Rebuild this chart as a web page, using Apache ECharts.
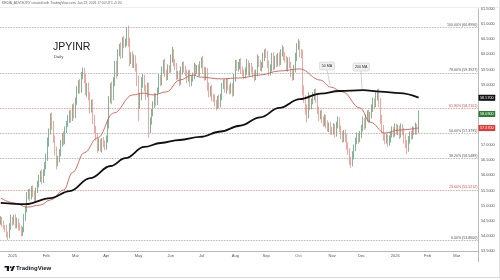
<!DOCTYPE html>
<html><head><meta charset="utf-8">
<script src="https://cdn.jsdelivr.net/npm/echarts@6/dist/echarts.min.js"></script>
<style>html,body{margin:0;padding:0;background:#fff}#c{width:500px;height:280px}</style>
</head><body><div id="c"></div>
<script>
const headerText = 'KEDIA_ADVISORY created with TradingView.com, Jan 23, 2026 17:00 UTC+5:30';
const symbolName = 'JPYINR';
const intervalName = 'Daily';
const startDate = '2024-12-20';
const axisEndDate = '2026-03-20';
const monthNames = ['Jan','Feb','Mar','Apr','May','Jun','Jul','Aug','Sep','Oct','Nov','Dec'];
const firstOpen = 54.45;
const closes = [54.55,
54.40,54.30,54.25,54.05,54.00,
54.30,54.55,54.45,54.60,54.35,
54.50,54.30,54.25,54.10,54.20,
54.60,54.90,55.30,55.45,55.30,
55.55,55.40,55.25,55.50,55.70,
55.90,56.05,55.85,56.10,56.30,
56.60,57.10,57.45,57.90,57.70,
57.20,56.80,56.40,56.55,56.75,
57.05,57.30,57.15,57.50,57.70,
57.85,58.05,57.90,58.25,58.00,
58.45,58.80,59.05,58.85,59.30,
59.45,59.20,58.75,58.95,58.60,
58.20,58.40,57.90,57.55,57.30,
56.95,57.10,56.90,57.15,57.05,
56.95,57.20,57.70,58.50,58.90,
58.60,59.10,59.60,59.40,60.05,
60.20,60.00,60.45,60.35,60.40,
60.75,60.40,59.80,59.95,59.70,
59.85,59.55,59.10,58.35,58.60,
59.05,59.20,58.90,58.70,58.95,
57.55,57.80,58.05,58.35,58.60,
58.45,58.80,59.20,59.10,59.50,
59.70,59.40,59.25,59.55,59.50,
59.85,60.05,59.75,59.60,59.30,
59.35,59.10,59.45,59.65,59.50,
59.40,59.20,59.35,59.05,59.20,
59.30,59.60,59.45,59.55,59.40,
59.65,59.80,59.50,59.25,59.45,
58.95,58.70,58.85,58.60,58.55,
58.40,58.30,58.55,58.35,58.60,
58.95,59.05,58.85,59.10,58.90,
58.80,58.95,58.75,59.20,59.70,
59.55,59.60,59.75,59.50,59.40,
59.30,59.45,59.70,59.40,59.60,
59.50,59.35,59.25,59.40,59.85,
59.70,59.55,59.65,59.90,60.05,
60.00,59.70,59.40,59.55,59.95,
59.60,59.85,59.70,59.95,59.75,
60.05,60.15,59.95,59.85,59.55,
59.80,59.65,59.40,59.25,59.50,
59.90,60.25,60.35,60.05,60.00,
58.85,58.55,58.20,58.00,58.55,
58.30,58.45,58.60,58.75,58.55,
58.15,57.95,58.05,57.85,57.75,
57.90,57.70,57.55,57.65,57.50,
57.45,57.60,57.40,57.65,57.80,
57.55,57.35,57.20,57.40,57.25,
57.00,56.80,56.50,56.40,56.65,
56.90,57.15,57.30,57.20,57.35,
57.55,57.80,57.65,57.90,58.05,
57.85,58.00,58.20,58.45,58.35,
58.60,58.75,58.40,57.90,57.55,
57.30,57.15,57.25,57.10,57.20,
57.35,57.50,57.40,57.60,57.45,
57.55,57.35,57.60,57.45,57.25,
57.05,56.90,57.15,57.35,57.30,
57.50,57.45,57.60,57.50,58.03];
// wick lengths in hundredths
const upWick = [10,
8,10,6,12,9, 12,15,8,10,12, 10,8,12,9,10, 12,10,15,10,12, 10,12,8,10,12,
12,10,15,10,14, 12,15,10,15,18, 10,12,15,10,12, 12,10,15,12,10, 14,10,12,10,15,
12,15,10,14,12, 12,10,15,10,12, 15,10,12,10,8, 10,12,10,8,12, 10,12,15,12,15,
20,15,18,20,12, 15,20,12,15,12, 15,20,15,12,15, 15,12,15,20,12, 20,15,12,10,12,
10,12,15,10,12, 12,10,15,12,10, 12,15,10,12,10, 15,20,12,10,12, 10,12,15,10,12,
12,10,12,15,10, 10,12,8,10,12, 12,10,15,10,12, 10,12,10,15,10, 12,10,8,12,10,
10,12,15,10,12, 10,12,10,15,12, 12,15,10,12,10, 10,12,15,10,12, 12,10,12,10,15,
10,12,10,15,12, 15,12,10,12,10, 12,10,15,10,12, 12,15,10,12,10, 10,12,10,12,15,
15,12,15,10,12, 15,12,10,15,20, 12,10,15,10,12, 15,12,10,12,10, 12,10,12,10,12,
10,12,10,12,15, 12,10,12,10,12, 12,10,10,12,15, 12,10,12,10,12, 12,15,10,12,10,
12,10,15,12,10, 15,10,12,15,10, 12,10,12,10,12, 10,12,10,12,10, 12,10,12,10,12,
10,12,15,10,12, 12,10,15,10,12];
const downWick = [8,
10,8,12,10,14, 8,10,12,8,10, 10,12,8,12,10, 8,10,12,10,15, 10,12,15,10,8,
10,12,15,10,12, 10,12,15,10,20, 12,15,20,10,12, 12,10,15,12,10, 10,12,15,10,12,
10,12,10,15,12, 12,15,10,15,12, 15,12,20,15,15, 20,15,12,15,12, 12,10,12,15,12,
25,12,15,20,12, 12,15,12,15,12, 12,15,20,12,15, 15,12,15,55,15, 12,15,12,20,12,
30,15,12,10,12, 15,12,10,15,12, 12,15,12,10,12, 10,12,15,12,15, 12,15,10,12,10,
12,15,10,12,10, 10,12,15,10,12, 12,10,15,12,10, 15,12,10,15,12, 12,15,10,12,10,
12,10,12,15,10, 12,10,15,12,10, 10,12,10,15,12, 12,10,12,10,12, 10,12,15,10,12,
12,10,12,10,12, 12,15,12,10,12, 12,10,12,10,15, 10,12,15,12,10, 12,10,15,12,10,
10,12,10,15,12, 20,15,20,25,12, 15,12,10,12,15, 12,15,10,12,15, 12,15,10,12,15,
12,10,15,12,10, 12,15,12,10,15, 15,12,15,15,10, 12,10,12,15,10, 12,10,15,10,12,
12,10,12,10,15, 10,12,15,20,15, 15,12,10,15,12, 12,10,15,12,10, 12,15,10,12,20,
15,20,12,10,12, 10,12,10,15,10];
// moving averages: [bar index, value]
const ma50 = [[0,55.25],[9,55.09],[18,54.95],[27,55.02],[34,55.19],[43,55.52],[49,56.10],[57,56.75],[66,57.24],[77,58.06],[90,58.66],[97,58.72],[104,58.66],[113,58.76],[122,59.15],[131,59.32],[136,59.25],[150,59.19],[163,59.22],[177,59.32],[190,59.45],[204,59.52],[218,59.15],[225,58.92],[233,58.76],[245,58.23],[252,57.76],[262,57.40],[272,57.50],[285,57.57]];
const ma200 = [[0,55.09],[17,55.05],[34,55.25],[47,55.48],[61,55.91],[75,56.31],[85,56.57],[98,56.94],[109,57.07],[122,57.17],[136,57.27],[150,57.45],[163,57.64],[177,57.92],[190,58.23],[204,58.52],[218,58.70],[231,58.79],[247,58.82],[259,58.77],[272,58.72],[285,58.57]];
const fibHigh = 60.899, fibLow = 53.86;
const fibRatios = [1, 0.786, 0.618, 0.5, 0.382, 0.236, 0];
const fibRedRatios = [0.618, 0.236];
const yMin = 53.5, yMax = 61.5, yStep = 0.5;

const UP = '#2b8550', DOWN = '#e46b63';

const dates = [];
{
  let d = new Date(startDate + 'T00:00:00Z');
  const end = new Date(axisEndDate + 'T00:00:00Z');
  while (d <= end) {
    const wd = d.getUTCDay();
    if (wd !== 0 && wd !== 6) dates.push(d.toISOString().slice(0, 10));
    d = new Date(d.getTime() + 86400000);
  }
}
const isMonthStart = dates.map((s, i) => i > 0 && s.slice(5, 7) !== dates[i - 1].slice(5, 7));
const ohlc = closes.map((c, i) => {
  const o = i === 0 ? firstOpen : closes[i - 1];
  return [o, c, Math.min(o, c) - downWick[i] / 100, Math.max(o, c) + upWick[i] / 100];
});
const lastClose = closes[closes.length - 1];
const last50 = ma50[ma50.length - 1][1];
const last200 = ma200[ma200.length - 1][1];

const priceTag = (v, bg) => ({
  yAxis: v,
  lineStyle: { color: 'rgba(0,0,0,0)', width: 0 },
  label: { show: true, position: 'end', distance: 0.5, formatter: v.toFixed(4), color: '#fff', backgroundColor: bg,
    fontSize: 3.8, padding: [1, 1.5], borderRadius: 0.5, fontFamily: 'Liberation Sans', opacity: 1 }
});

const fibData = fibRatios.map(r => {
  const v = fibLow + r * (fibHigh - fibLow);
  const red = fibRedRatios.includes(r);
  return {
    yAxis: v,
    lineStyle: { color: red ? '#d9776f' : '#9a9a9a', type: 'dotted', width: 0.8 },
    label: { show: true, position: 'insideEndTop', distance: 0.5, formatter: (r * 100).toFixed(2) + '% (' + v.toFixed(4) + ')',
      color: red ? '#d0504a' : '#555', fontSize: 3.6, fontFamily: 'Liberation Sans' }
  };
});

const chart = echarts.init(document.getElementById('c'), null, { renderer: 'canvas' });
chart.setOption({
  animation: false,
  backgroundColor: '#fff',
  grid: { left: 0, right: 22, top: 9, bottom: 29, outerBoundsMode: 'none', containLabel: false },
  xAxis: {
    type: 'category', data: dates, boundaryGap: true,
    axisLine: { show: true, lineStyle: { color: '#8a8a8a', width: 0.6 } },
    axisTick: { show: false },
    splitLine: { show: false },
    axisLabel: {
      interval: (idx) => isMonthStart[idx],
      formatter: (val) => { const m = +val.slice(5, 7); return m === 1 ? val.slice(0, 4) : monthNames[m - 1]; },
      fontSize: 4, color: '#555', margin: 3, fontFamily: 'Liberation Sans'
    }
  },
  yAxis: {
    type: 'value', position: 'right', min: yMin, max: yMax, interval: yStep, scale: true,
    axisLine: { show: true, lineStyle: { color: '#8a8a8a', width: 0.6 } },
    axisTick: { show: false },
    splitLine: { show: false },
    axisLabel: { formatter: v => v.toFixed(4), fontSize: 3.8, color: '#555', margin: 3, fontFamily: 'Liberation Sans' }
  },
  series: [
    {
      type: 'candlestick', data: ohlc, barWidth: 1.3,
      itemStyle: { color: UP, color0: DOWN, borderColor: UP, borderColor0: DOWN, borderWidth: 0.6 },
      markLine: { silent: true, symbol: ['none', 'none'], animation: false, data: fibData.concat([priceTag(lastClose, '#2e7d32')]) },
      z: 3
    },
    {
      type: 'line', data: ma50, smooth: 0.4, smoothMonotone: 'x', showSymbol: false,
      lineStyle: { color: '#d65a52', width: 0.9 }, z: 4,
      markLine: { silent: true, symbol: ['none', 'none'], data: [priceTag(last50, '#e53935')] }
    },
    {
      type: 'line', data: ma200, smooth: 0.4, smoothMonotone: 'x', showSymbol: false,
      lineStyle: { color: '#111', width: 1.8 }, z: 5,
      markLine: { silent: true, symbol: ['none', 'none'], data: [priceTag(last200, '#111')] }
    }
  ],
  graphic: [
    { type: 'text', x: 2, y: 1.5, style: { text: headerText, fontSize: 3.3, fill: '#666', fontFamily: 'Liberation Sans' } },
    { type: 'line', shape: { x1: 0, y1: 7.5, x2: 500, y2: 7.5 }, style: { stroke: '#e2e2e2', lineWidth: 0.6 } },
    { type: 'text', x: 53, y: 41.5, style: { text: symbolName, fontSize: 10.5, fill: '#222', fontFamily: 'Liberation Sans' } },
    { type: 'text', x: 54, y: 54.5, style: { text: intervalName, fontSize: 4.2, fill: '#444', fontFamily: 'Liberation Sans' } },
    // annotations
    { type: 'line', shape: { x1: 327, y1: 70, x2: 330, y2: 85 }, style: { stroke: '#b5b5b5', lineWidth: 0.6 } },
    { type: 'rect', shape: { x: 319.5, y: 62, width: 15, height: 8, r: 1.5 }, style: { fill: '#efefef', stroke: '#c6c6c6', lineWidth: 0.5 } },
    { type: 'text', x: 327, y: 66, style: { text: '50 MA', fontSize: 3.6, fill: '#333', align: 'center', verticalAlign: 'middle', textAlign: 'center', textVerticalAlign: 'middle', fontFamily: 'Liberation Sans' } },
    { type: 'line', shape: { x1: 361, y1: 71, x2: 362, y2: 89 }, style: { stroke: '#b5b5b5', lineWidth: 0.6 } },
    { type: 'rect', shape: { x: 353, y: 63, width: 16.5, height: 8, r: 1.5 }, style: { fill: '#efefef', stroke: '#c6c6c6', lineWidth: 0.5 } },
    { type: 'text', x: 361.2, y: 67, style: { text: '200 MA', fontSize: 3.6, fill: '#333', align: 'center', verticalAlign: 'middle', textAlign: 'center', textVerticalAlign: 'middle', fontFamily: 'Liberation Sans' } },
    // footer
    { type: 'line', shape: { x1: 478.5, y1: 251, x2: 478.5, y2: 262 }, style: { stroke: '#8a8a8a', lineWidth: 0.6 } },
    { type: 'rect', shape: { x: 4.5, y: 266, width: 4.5, height: 1.6 }, style: { fill: '#131722' } },
    { type: 'rect', shape: { x: 6.8, y: 266, width: 2.2, height: 5 }, style: { fill: '#131722' } },
    { type: 'circle', shape: { cx: 10.6, cy: 267.3, r: 1 }, style: { fill: '#131722' } },
    { type: 'polygon', shape: { points: [[10.5, 271], [12.8, 266], [15, 266], [12.7, 271]] }, style: { fill: '#131722' } },
    { type: 'text', x: 16, y: 265.5, style: { text: 'TradingView', fontSize: 6, fontWeight: 'bold', fill: '#131722', fontFamily: 'Liberation Sans' } },
    { type: 'line', shape: { x1: 0, y1: 277.5, x2: 500, y2: 277.5 }, style: { stroke: '#cfcfcf', lineWidth: 0.8 } },
    { type: 'line', shape: { x1: 499.5, y1: 0, x2: 499.5, y2: 278 }, style: { stroke: '#dedede', lineWidth: 0.8 } }
  ]
});
</script>
</body></html>
